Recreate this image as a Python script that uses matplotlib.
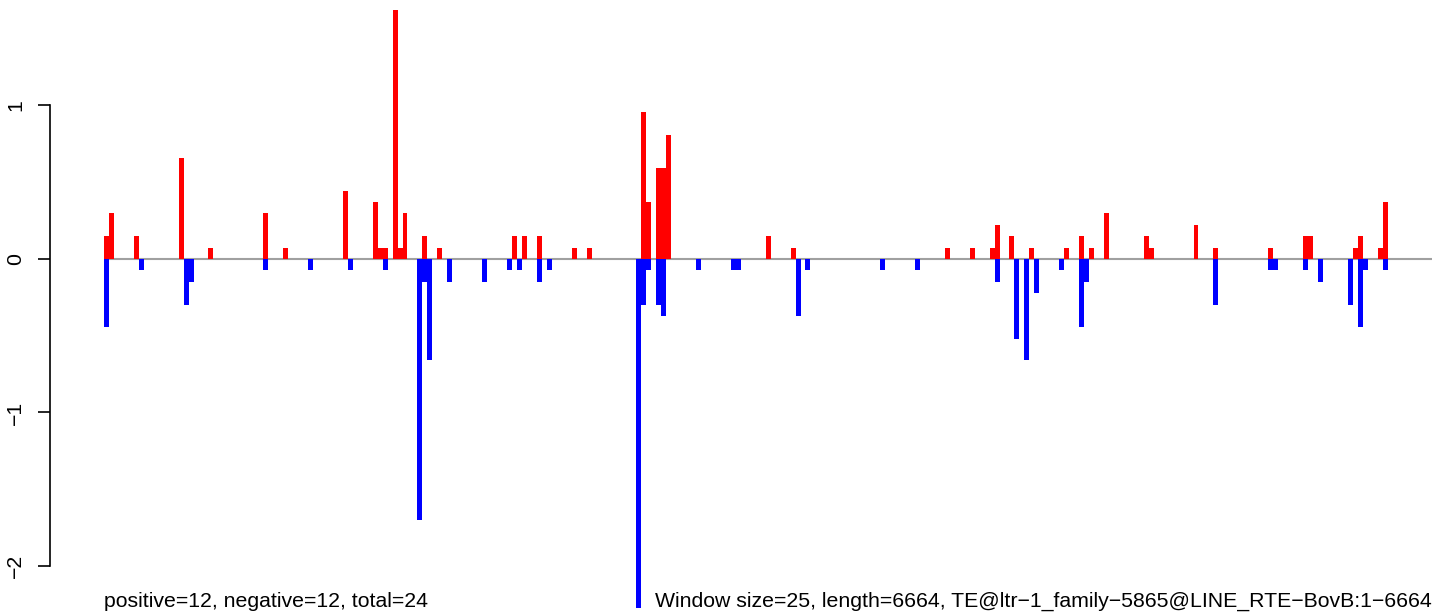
import matplotlib
matplotlib.use("Agg")
import matplotlib.pyplot as plt

plt.rcParams['font.family'] = ['Liberation Sans', 'DejaVu Sans']

# window count: ceil(6664 / 25)
n_windows = 267

# positive scores per window (index, value)
pos_idx = [0, 1, 6, 15, 21, 32, 36, 48, 54, 55, 56, 58, 59, 60, 64, 67, 82, 84,
           87, 94, 97, 108, 109, 111, 112, 113, 133, 138, 169, 174, 178, 179,
           182, 186, 193, 196, 198, 201, 209, 210, 219, 223, 234, 241, 242,
           251, 252, 256, 257]
pos_val = [0.15, 0.30, 0.15, 0.66, 0.07, 0.30, 0.07, 0.44, 0.37, 0.07, 0.07,
           1.62, 0.07, 0.30, 0.15, 0.07, 0.15, 0.15, 0.15, 0.07, 0.07, 0.96,
           0.37, 0.59, 0.59, 0.81, 0.15, 0.07, 0.07, 0.07, 0.07, 0.22, 0.15,
           0.07, 0.07, 0.15, 0.07, 0.30, 0.15, 0.07, 0.22, 0.07, 0.07, 0.15,
           0.15, 0.07, 0.15, 0.07, 0.37]

# negative scores per window
neg_idx = [0, 7, 16, 17, 32, 41, 49, 56, 63, 64, 65, 69, 76, 81, 83, 87, 89,
           107, 108, 109, 111, 112, 119, 126, 127, 139, 141, 156, 163, 179,
           183, 185, 187, 192, 196, 197, 223, 234, 235, 241, 244, 250, 252,
           253, 257]
neg_val = [-0.44, -0.07, -0.30, -0.15, -0.07, -0.07, -0.07, -0.07, -1.70,
           -0.15, -0.66, -0.15, -0.15, -0.07, -0.07, -0.15, -0.07, -2.29,
           -0.30, -0.07, -0.30, -0.37, -0.07, -0.07, -0.07, -0.37, -0.07,
           -0.07, -0.07, -0.15, -0.52, -0.66, -0.22, -0.07, -0.44, -0.15,
           -0.30, -0.07, -0.07, -0.07, -0.15, -0.30, -0.44, -0.07, -0.07]

y_ticks = [-2, -1, 0, 1]
y_labels = ['\u22122', '\u22121', '0', '1']

left_note = 'positive=12, negative=12, total=24'
right_note = ('Window size=25, length=6664, '
              'TE@ltr\u22121_family\u22125865@LINE_RTE\u2212BovB:1\u22126664')

W, H = 1444, 615
fs = 15.3
fig = plt.figure(figsize=(W / 100, H / 100), dpi=100)
# axes placed in pixel terms: spine at x=50, plot from y=10 to y=608
ax = fig.add_axes([50 / W, 1 - 608 / H, (1440 - 50) / W, (608 - 10) / H])

px = 4.975  # pixels per window
ax.set_xlim(-54 / px, (1440 - 104) / px)
ax.set_ylim(-(608 - 259) / 153.5, (259 - 10) / 153.5)

ax.plot([0, n_windows], [0, 0], color='#A0A0A0', lw=1.5, zorder=1,
        solid_capstyle='butt')
ax.bar(pos_idx, pos_val, width=1, align='edge', color='#FF0000',
       linewidth=0, zorder=2)
ax.bar(neg_idx, neg_val, width=1, align='edge', color='#0000FF',
       linewidth=0, zorder=2)

for s in ['top', 'right', 'bottom']:
    ax.spines[s].set_visible(False)
ax.spines['left'].set_bounds(-2, 1)
ax.spines['left'].set_linewidth(1.2)
ax.set_xticks([])
ax.set_yticks(y_ticks)
ax.set_yticklabels(y_labels, rotation=90, va='center', fontsize=fs)
ax.tick_params(axis='y', length=9, width=1.2, pad=9)

fig.text(104 / W, (H - 607) / H, left_note, ha='left', va='baseline',
         fontsize=fs)
fig.text(1432 / W, (H - 607) / H, right_note, ha='right', va='baseline',
         fontsize=fs)

fig.savefig('out.png', dpi=100)
